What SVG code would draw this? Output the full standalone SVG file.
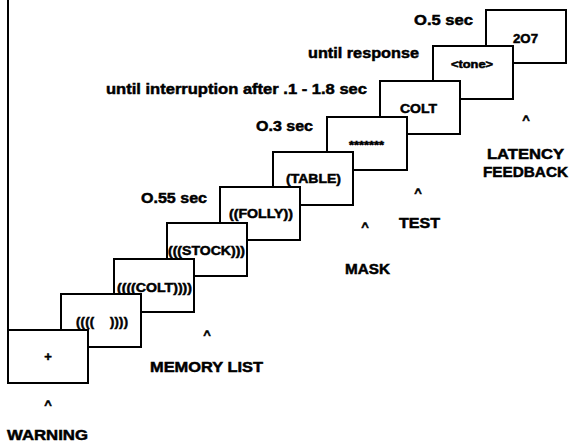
<svg xmlns="http://www.w3.org/2000/svg" width="570" height="444" viewBox="0 0 570 444">
<style>
.box{fill:#fff;stroke:#000;stroke-width:2}
.t{font-family:"Liberation Sans",Arial,sans-serif;font-weight:bold;fill:#000;stroke:#000;stroke-width:0.5}
.lbl{font-size:15px}
.in{font-size:13px}
.car{font-size:13px;text-anchor:middle}
</style>
<rect width="570" height="444" fill="#fff"/>
<g id="connectors">
<line x1="8" y1="0" x2="8" y2="330" stroke="#000" stroke-width="2"/>
</g>
<g id="n10"><rect class="box" x="486" y="10" width="80" height="53"/><text class="t in" x="513" y="42.5" textLength="25" lengthAdjust="spacingAndGlyphs">2O7</text></g>
<g id="n9"><rect class="box" x="433" y="46" width="80" height="53"/><text class="t" font-size="10" x="451" y="68" textLength="42" lengthAdjust="spacingAndGlyphs">&lt;tone&gt;</text></g>
<g id="n8"><rect class="box" x="380" y="81" width="80" height="53"/><text class="t in" x="400" y="113" textLength="37" lengthAdjust="spacingAndGlyphs">COLT</text></g>
<g id="n7"><rect class="box" x="327" y="117" width="80" height="53"/><text class="t" font-size="10" x="349" y="148.5" textLength="35" lengthAdjust="spacingAndGlyphs">*******</text></g>
<g id="n6"><rect class="box" x="273" y="152" width="80" height="53"/><text class="t in" x="286" y="183" textLength="55" lengthAdjust="spacingAndGlyphs">(TABLE)</text></g>
<g id="n5"><rect class="box" x="220" y="187" width="80" height="53"/><text class="t in" x="229" y="218" textLength="64" lengthAdjust="spacingAndGlyphs">((FOLLY))</text></g>
<g id="n4"><rect class="box" x="167" y="223" width="80" height="53"/><text class="t in" x="168" y="255" textLength="77" lengthAdjust="spacingAndGlyphs">(((STOCK)))</text></g>
<g id="n3"><rect class="box" x="114" y="259" width="80" height="53"/><text class="t in" x="117" y="292" textLength="75" lengthAdjust="spacingAndGlyphs">((((COLT))))</text></g>
<g id="n2"><rect class="box" x="61" y="294" width="80" height="53"/><text class="t in" x="76" y="326" textLength="52" lengthAdjust="spacing" xml:space="preserve">((((    ))))</text></g>
<g id="n1"><rect class="box" x="8" y="330" width="80" height="53"/><text class="t in" x="48" y="361" text-anchor="middle">+</text></g>
<g id="labels">
<text class="t lbl" x="414" y="25" textLength="59" lengthAdjust="spacingAndGlyphs">O.5 sec</text>
<text class="t lbl" x="308" y="58" textLength="111" lengthAdjust="spacingAndGlyphs">until response</text>
<text class="t lbl" x="106" y="94" textLength="261" lengthAdjust="spacingAndGlyphs">until interruption after .1 - 1.8 sec</text>
<text class="t lbl" x="256" y="131" textLength="57" lengthAdjust="spacingAndGlyphs">O.3 sec</text>
<text class="t lbl" x="141" y="203" textLength="66" lengthAdjust="spacingAndGlyphs">O.55 sec</text>
<text class="t lbl" x="487" y="159" textLength="77" lengthAdjust="spacingAndGlyphs">LATENCY</text>
<text class="t lbl" x="483" y="177" textLength="85" lengthAdjust="spacingAndGlyphs">FEEDBACK</text>
<text class="t lbl" x="399" y="228" textLength="41" lengthAdjust="spacingAndGlyphs">TEST</text>
<text class="t lbl" x="345" y="274" textLength="45" lengthAdjust="spacingAndGlyphs">MASK</text>
<text class="t lbl" x="150" y="371.5" textLength="113" lengthAdjust="spacingAndGlyphs">MEMORY LIST</text>
<text class="t lbl" x="7" y="440" textLength="81" lengthAdjust="spacingAndGlyphs">WARNING</text>
<text class="t car" x="48" y="409">^</text>
<text class="t car" x="207" y="339">^</text>
<text class="t car" x="365" y="231">^</text>
<text class="t car" x="418" y="197">^</text>
<text class="t car" x="526" y="124">^</text>
</g>
</svg>
